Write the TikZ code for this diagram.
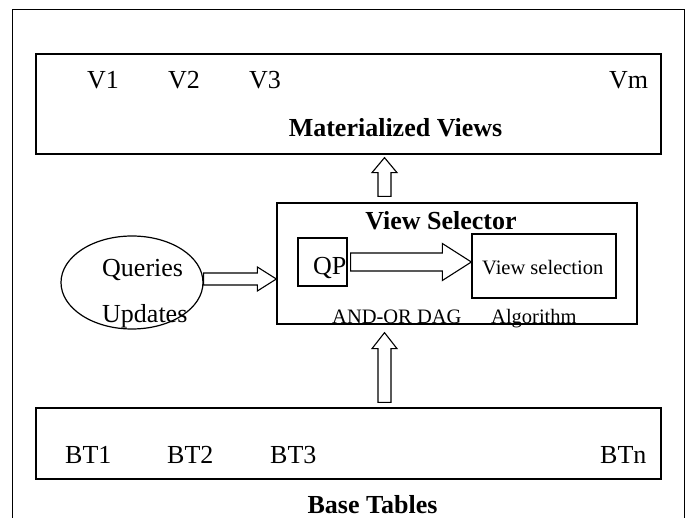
\documentclass[tikz,border=0pt]{standalone}
\usepackage{fontspec}
\setmainfont{Liberation Serif}
\usetikzlibrary{shapes.geometric,calc}

\tikzset{
  box/.style={draw, line width=1.3pt, rectangle, inner sep=0pt},
  lbl/.style={inner sep=0pt, font=\fontsize{26}{30}\selectfont},
  blbl/.style={inner sep=0pt, font=\fontsize{26}{30}\selectfont\bfseries},
  slbl/.style={inner sep=0pt, font=\fontsize{20.5}{24}\selectfont},
  blk/.style={draw, line width=1.1pt, fill=white, line join=miter},
}

% hollow block arrow pointing right: tail, tip, shaft half, head half, head length
\newcommand\blockright[5]{%
  \draw[blk] let \p1=(#1), \p2=(#2) in
    (\x1,\y1+#3) -- (\x2-#5,\y1+#3) -- (\x2-#5,\y1+#4) -- (\x2,\y1)
    -- (\x2-#5,\y1-#4) -- (\x2-#5,\y1-#3) -- (\x1,\y1-#3) -- cycle;}
% hollow block arrow pointing up: tail, tip, shaft half, head half, head length
\newcommand\blockup[5]{%
  \draw[blk] let \p1=(#1), \p2=(#2) in
    (\x1-#3,\y1) -- (\x1-#3,\y2-#5) -- (\x1-#4,\y2-#5) -- (\x1,\y2)
    -- (\x1+#4,\y2-#5) -- (\x1+#3,\y2-#5) -- (\x1+#3,\y1) -- cycle;}

\begin{document}
\begin{tikzpicture}[x=1pt, y=-1pt]
\useasboundingbox (0,0) rectangle (688,518);

% outer frame, open at the bottom
\draw[line width=1pt] (12.5,518) -- (12.5,10) -- (684,10) -- (684,518);

% materialized views
\node[box, minimum width=625pt, minimum height=100pt] (mv) at (348.5,104) {};
\node[lbl, anchor=base west] (v1) at (87,89) {V1};
\node[lbl, anchor=base west] (v2) at (168,89) {V2};
\node[lbl, anchor=base west] (v3) at (249,89) {V3};
\node[lbl, anchor=base west] (vm) at (609,89) {Vm};
\node[blbl, anchor=base] (mvt) at (395.5,137) {Materialized Views};

% view selector
\node[box, minimum width=360pt, minimum height=121pt] (vs) at (457,263.5) {};
\node[blbl, anchor=base] (vst) at (441,230) {View Selector};
\node[box, minimum width=49pt, minimum height=48pt] (qp) at (322.5,262) {};
\node[lbl, anchor=base west] (qpt) at (313,275) {QP};
\node[box, minimum width=144pt, minimum height=64pt] (vsel) at (544,266) {};
\node[slbl, anchor=base west] (vselt) at (482,275) {View selection};
\node[slbl, anchor=base west] (dag) at (332,324) {AND-OR DAG};
\node[slbl, anchor=base west] (alg) at (491,324) {Algorithm};

% workload
\node[draw, line width=1.2pt, ellipse, inner sep=0pt,
      minimum width=142pt, minimum height=93pt] (qu) at (132,282.5) {};
\node[lbl, anchor=base west] (qt) at (102,277) {Queries};
\node[lbl, anchor=base west] (ut) at (102,323) {Updates};

% base tables
\node[box, minimum width=625pt, minimum height=71pt] (bt) at (348.5,443.5) {};
\node[lbl, anchor=base west] (bt1) at (65,463) {BT1};
\node[lbl, anchor=base west] (bt2) at (167,463) {BT2};
\node[lbl, anchor=base west] (bt3) at (270,463) {BT3};
\node[lbl, anchor=base west] (btn) at (600,463) {BTn};
\node[blbl, anchor=base] (btt) at (372.5,513.5) {Base Tables};

% arrow end points
\coordinate (upTail) at (vs.north -| 384.5,0);
\coordinate (upTip) at (mv.south -| 384.5,0);
\coordinate (lowTail) at (bt.north -| 384.5,0);
\coordinate (lowTip) at (vs.south -| 384.5,0);
\coordinate (qpTail) at ([xshift=3pt]qp.east);
\coordinate (qpTip) at (vsel.west |- qp.east);
\coordinate (quTail) at ([yshift=3.5pt]qu.east);
\coordinate (quTip) at (vs.west |- quTail);

% connectors
\blockup{[yshift=6pt]upTail}{[yshift=-3pt]upTip}{6.5pt}{12.5pt}{15pt}
\blockup{[yshift=5pt]lowTail}{[yshift=-8pt]lowTip}{6.5pt}{12.5pt}{16pt}
\blockright{qpTail}{qpTip}{9pt}{18.5pt}{29pt}
\blockright{quTail}{quTip}{6pt}{12pt}{19pt}
\end{tikzpicture}
\end{document}
